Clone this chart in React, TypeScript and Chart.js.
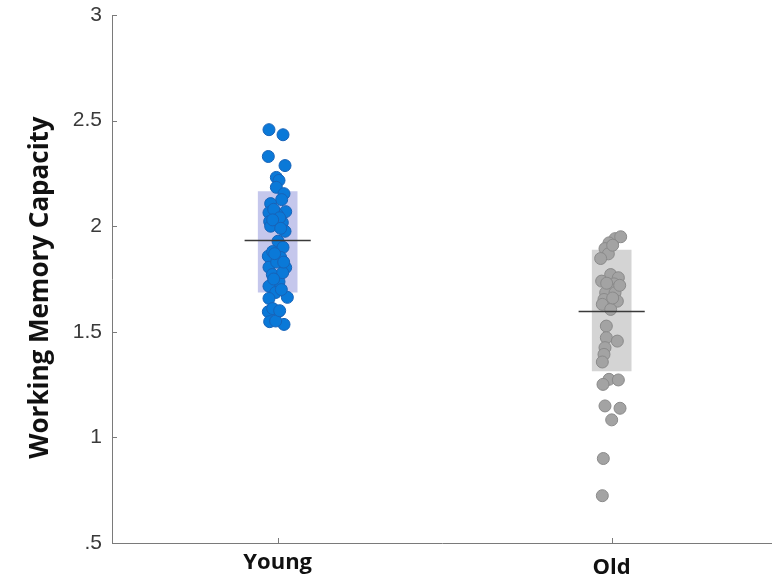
import React, { useEffect, useRef } from 'react';
import { Chart, registerables } from 'chart.js';

Chart.register(...registerables);

// ---- data ----
const categories = ['Young', 'Old'];
const categoryPositions = [1, 2];
const yAxisTitle = 'Working Memory Capacity';

const youngValues = [
  2.457, 2.433, 2.33, 2.287, 2.231, 2.217, 2.184, 2.154, 2.126, 2.107, 2.069, 2.064,
  2.055, 2.022, 2.017, 2.0, 1.976, 1.929, 1.9, 1.858, 1.852, 1.804, 1.806, 1.771,
  1.737, 1.716, 1.686, 1.663, 1.658, 1.595, 1.595, 1.548, 1.535, 1.551,
  2.08, 2.04, 2.03, 1.99, 1.88, 1.83, 1.78, 1.87, 1.83, 1.75, 1.7, 1.61, 1.6,
];
const youngJitter = [
  -0.026, 0.016, -0.028, 0.022, -0.004, 0.004, -0.004, 0.019, 0.012, -0.021, 0.024, -0.026,
  -0.001, -0.024, 0.014, -0.021, 0.022, 0.001, 0.016, -0.028, 0.009, 0.024, -0.026, -0.016,
  0.004, -0.026, -0.006, 0.029, -0.026, -0.028, 0.002, -0.024, 0.019, -0.006,
  -0.012, 0.006, -0.015, 0.009, -0.015, -0.003, 0.015, -0.009, 0.018, -0.012, 0.011, -0.015, 0.006,
];

const oldValues = [
  1.941, 1.921, 1.894, 1.869, 1.847, 1.771, 1.756, 1.74, 1.727, 1.708, 1.685, 1.685,
  1.653, 1.645, 1.63, 1.606, 1.527, 1.472, 1.456, 1.425, 1.393, 1.357, 1.275, 1.272,
  1.251, 1.149, 1.138, 1.083, 0.9, 0.724, 1.95, 1.91, 1.73, 1.72, 1.66,
];
const oldJitter = [
  0.01, -0.008, -0.02, -0.01, -0.033, -0.003, 0.02, -0.03, 0.007, -0.008, -0.018, 0.01,
  -0.023, 0.017, -0.028, -0.003, -0.016, -0.016, 0.017, -0.02, -0.023, -0.028, -0.008, 0.02,
  -0.026, -0.02, 0.025, 0.0, -0.025, -0.028, 0.027, 0.003, -0.015, 0.024, 0.003,
];

const boxLow = [1.686, 1.313];
const boxHigh = [2.166, 1.889];
const groupMeans = [1.932, 1.596];

const yTickValues = [0.5, 1, 1.5, 2, 2.5, 3];
const yTickLabels = ['.5', '1', '1.5', '2', '2.5', '3'];

// ---- styles ----
const BOX_HALF = 0.06;
const MEAN_HALF = 0.099;
const boxColors = ['rgb(197,199,236)', 'rgb(212,212,212)'];
const pointFill = ['#0a79d8', '#a3a3a3'];
const pointBorder = ['#1763b8', '#8a8a8a'];
const axisColor = '#7a7a7a';
const CANVAS_SHIFT_TOP = 8;

const inwardTicks = {
  id: 'inwardTicks',
  afterDraw(chart: any) {
    const { ctx, chartArea, scales } = chart;
    const x = scales.x;
    const y = scales.y;
    ctx.save();
    ctx.strokeStyle = axisColor;
    ctx.lineWidth = 1;
    y.ticks.forEach((t: any) => {
      const py = Math.round(y.getPixelForValue(t.value)) + 0.5;
      ctx.beginPath();
      ctx.moveTo(chartArea.left, py);
      ctx.lineTo(chartArea.left + 5, py);
      ctx.stroke();
    });
    x.ticks.forEach((t: any) => {
      const px = Math.round(x.getPixelForValue(t.value)) + 0.5;
      ctx.beginPath();
      ctx.moveTo(px, chartArea.bottom);
      ctx.lineTo(px, chartArea.bottom - 5);
      ctx.stroke();
    });
    ctx.restore();
  },
};

const yTitlePlugin = {
  id: 'yTitlePlugin',
  afterDraw(chart: any) {
    const { ctx } = chart;
    ctx.save();
    ctx.translate(41, 287.5 + CANVAS_SHIFT_TOP);
    ctx.rotate(-Math.PI / 2);
    ctx.font = "bold 26px 'Open Sans', sans-serif";
    ctx.fillStyle = '#111';
    ctx.textAlign = 'center';
    ctx.textBaseline = 'middle';
    ctx.fillText(yAxisTitle, 0, 0);
    ctx.restore();
  },
};

export default function App() {
  const canvasRef = useRef<HTMLCanvasElement | null>(null);

  useEffect(() => {
    if (!canvasRef.current) return;

    const boxDatasets = categoryPositions.map((c, i) => ({
      type: 'line' as const,
      data: [
        { x: c - BOX_HALF, y: boxHigh[i] },
        { x: c + BOX_HALF, y: boxHigh[i] },
      ],
      borderWidth: 0,
      borderColor: 'rgba(0,0,0,0)',
      backgroundColor: boxColors[i],
      fill: { value: boxLow[i] },
      pointRadius: 0,
      showLine: true,
      order: 5,
    }));

    const pointDatasets = [
      {
        type: 'scatter' as const,
        data: youngValues.map((v, i) => ({ x: categoryPositions[0] + youngJitter[i], y: v })),
        pointRadius: 6,
        borderWidth: 1,
        backgroundColor: pointFill[0],
        borderColor: pointBorder[0],
        order: 3,
      },
      {
        type: 'scatter' as const,
        data: oldValues.map((v, i) => ({ x: categoryPositions[1] + oldJitter[i], y: v })),
        pointRadius: 6,
        borderWidth: 1,
        backgroundColor: pointFill[1],
        borderColor: pointBorder[1],
        order: 3,
      },
    ];

    const meanDatasets = categoryPositions.map((c, i) => ({
      type: 'line' as const,
      data: [
        { x: c - MEAN_HALF, y: groupMeans[i] },
        { x: c + MEAN_HALF, y: groupMeans[i] },
      ],
      borderWidth: 1.5,
      borderColor: '#3a3a3a',
      pointRadius: 0,
      fill: false,
      showLine: true,
      order: 1,
    }));

    const chart = new Chart(canvasRef.current, {
      type: 'scatter',
      data: { datasets: [...meanDatasets, ...pointDatasets, ...boxDatasets] as any },
      options: {
        animation: false,
        responsive: false,
        layout: { padding: { top: 23, left: 0, right: 0, bottom: 0 } },
        plugins: { legend: { display: false }, tooltip: { enabled: false } },
        scales: {
          x: {
            type: 'linear',
            min: 0.504,
            max: 2.48,
            afterBuildTicks: (s: any) => {
              s.ticks = categoryPositions.map((v) => ({ value: v }));
            },
            afterFit: (s: any) => {
              s.height = 39;
            },
            ticks: {
              autoSkip: false,
              maxRotation: 0,
              padding: 7,
              color: '#111',
              callback: (_v: any, i: number) => categories[i],
              font: (ctx: any) => ({
                family: "'Open Sans', sans-serif",
                weight: 'bold',
                size: 22,
                lineHeight: ctx.index === 1 ? 1.6 : 1.2,
              }),
            },
            grid: { display: false, drawTicks: false },
            border: { display: true, color: axisColor, width: 1 },
          },
          y: {
            type: 'linear',
            min: 0.5,
            max: 3,
            afterBuildTicks: (s: any) => {
              s.ticks = yTickValues.map((v) => ({ value: v }));
            },
            afterFit: (s: any) => {
              s.width = 112;
            },
            ticks: {
              padding: 10,
              color: '#3a3a3a',
              callback: (_v: any, i: number) => yTickLabels[i],
              font: { family: "'Liberation Sans', Arial, sans-serif", size: 21 },
            },
            grid: { display: false, drawTicks: false },
            border: { display: true, color: axisColor, width: 1 },
          },
        },
      },
      plugins: [inwardTicks, yTitlePlugin],
    } as any);

    return () => chart.destroy();
  }, []);

  return (
    <div
      style={{
        position: 'fixed',
        left: 0,
        top: 0,
        width: 772,
        height: 582,
        overflow: 'hidden',
        background: '#fff',
      }}
    >
      <canvas
        ref={canvasRef}
        width={779}
        height={582 + CANVAS_SHIFT_TOP}
        style={{ position: 'absolute', left: 0, top: -CANVAS_SHIFT_TOP }}
      />
    </div>
  );
}
